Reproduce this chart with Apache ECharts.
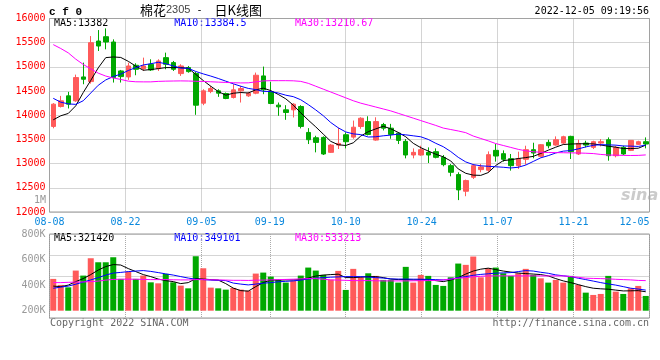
<!DOCTYPE html>
<html><head><meta charset="utf-8">
<script src="https://cdn.jsdelivr.net/npm/echarts@6/dist/echarts.min.js"></script>
<style>html,body{margin:0;padding:0;background:#fff}#c{width:660px;height:360px}</style>
</head><body><div id="c"></div>
<script>
// ---- data ----
const dates = ['08-08','08-09','08-10','08-11','08-12','08-15','08-16','08-17','08-18','08-19',
 '08-22','08-23','08-24','08-25','08-26','08-29','08-30','08-31','09-01','09-02',
 '09-05','09-06','09-07','09-08','09-09','09-13','09-14','09-15','09-16','09-19',
 '09-20','09-21','09-22','09-23','09-26','09-27','09-28','09-29','09-30','10-10',
 '10-11','10-12','10-13','10-14','10-17','10-18','10-19','10-20','10-21','10-24',
 '10-25','10-26','10-27','10-28','10-31','11-01','11-02','11-03','11-04','11-07',
 '11-08','11-09','11-10','11-11','11-14','11-15','11-16','11-17','11-18','11-21',
 '11-22','11-23','11-24','11-25','11-28','11-29','11-30','12-01','12-02','12-05'];
const dateLabels = ['08-08','08-22','09-05','09-19','10-10','10-24','11-07','11-21','12-05'];

const opens = [13769,14181,14401,14298,14792,14696,15534,15624,15514,14916,
 14792,15033,14964,15054,14964,15191,15088,14861,14985,14861,
 14250,14490,14504,14449,14367,14504,14401,14456,14813,14483,
 14209,14112,14112,14181,13645,13535,13542,13233,13384,13597,
 13548,13767,13869,13487,13808,13733,13630,13460,13178,13178,
 13233,13247,13130,12958,12773,12429,12718,12876,12862,13274,
 13206,13103,12958,13089,13288,13151,13439,13384,13425,13563,
 13199,13425,13336,13425,13494,13164,13336,13274,13398,13453];
const closes = [14229,14298,14229,14779,14744,15500,15431,15514,14779,14799,
 15019,14950,15019,14937,15122,15054,14950,15019,14902,14208,
 14504,14552,14456,14346,14525,14552,14456,14827,14525,14243,
 14174,14057,14229,13769,13494,13439,13199,13384,13418,13453,
 13753,13938,13603,13869,13733,13603,13480,13178,13233,13288,
 13178,13130,12979,12821,12457,12649,12958,12931,13185,13157,
 13089,12958,13103,13288,13219,13391,13370,13494,13556,13247,
 13418,13384,13453,13453,13164,13336,13199,13480,13453,13405];
const lows = [13730,14160,14140,14277,14641,14655,15328,15363,14676,14676,
 14731,14827,14916,14916,14916,14950,14916,14813,14880,14009,
 14208,14456,14380,14332,14346,14263,14380,14435,14435,14229,
 13989,13906,13954,13728,13405,13233,13178,13220,13302,13315,
 13514,13720,13583,13473,13686,13514,13405,13109,13109,13164,
 13013,13109,12944,12738,12246,12326,12683,12821,12821,13041,
 13041,12855,12890,12979,13110,13130,13315,13370,13405,13096,
 13178,13336,13302,13357,13061,13130,13178,13260,13384,13315];
const highs = [14250,14400,14483,14840,15088,15637,15761,15795,15569,14937,
 15088,15074,15191,15157,15157,15294,15122,15054,15019,14896,
 14538,14607,14538,14470,14641,14607,14483,14882,15006,14689,
 14263,14208,14250,14208,13734,13576,13563,13405,13741,13645,
 13890,13958,13979,13958,13842,13822,13651,13508,13315,13370,
 13336,13315,13178,12993,12821,12670,12993,12993,13253,13405,
 13274,13199,13247,13370,13432,13405,13494,13563,13576,13576,
 13494,13473,13473,13508,13542,13370,13370,13480,13473,13542];

const ma5 = [13906,13989,14037,14195,14470,14720,14980,15191,15205,15195,
 15115,15015,14930,14945,14964,14985,14985,14985,14972,14845,
 14718,14600,14490,14415,14455,14470,14460,14525,14560,14510,
 14430,14340,14210,14050,13900,13760,13610,13460,13390,13375,
 13430,13570,13660,13718,13772,13720,13645,13555,13420,13330,
 13260,13195,13140,13055,12890,12800,12762,12757,12815,12962,
 13062,13080,13105,13125,13150,13210,13278,13340,13395,13405,
 13410,13412,13408,13385,13360,13340,13312,13312,13318,13382];
const ma10 = [14350,14270,14235,14225,14300,14460,14620,14730,14800,14850,
 14925,14985,15040,15065,15095,15065,15020,14975,14970,14905,
 14855,14810,14760,14705,14650,14600,14555,14530,14495,14490,
 14460,14415,14385,14320,14220,14110,13990,13850,13740,13655,
 13615,13600,13550,13555,13575,13590,13610,13595,13575,13555,
 13500,13420,13350,13250,13130,13035,12980,12955,12945,12935,
 12925,12910,12925,12970,13045,13120,13165,13220,13258,13270,
 13305,13345,13378,13392,13388,13382,13365,13362,13355,13384];
const ma30 = [15460,15380,15290,15160,15050,14960,14870,14810,14770,14740,
 14705,14692,14690,14690,14700,14705,14708,14710,14708,14702,
 14698,14692,14685,14678,14672,14668,14670,14690,14710,14715,
 14715,14715,14712,14700,14660,14600,14540,14480,14420,14360,
 14300,14250,14210,14170,14130,14090,14040,13990,13940,13890,
 13840,13790,13735,13705,13675,13640,13570,13520,13470,13415,
 13375,13335,13295,13265,13245,13235,13230,13228,13225,13222,
 13220,13215,13208,13190,13178,13175,13170,13168,13170,13180];

// volume, in thousands of lots
const vols = [539,437,396,680,595,889,821,821,906,539,
 663,539,595,481,464,624,481,425,379,923,
 719,391,379,357,386,357,340,629,646,578,
 527,476,510,595,731,680,607,527,675,352,
 709,566,634,590,522,522,476,743,476,607,
 590,437,420,566,799,777,918,566,719,731,
 634,590,634,709,607,549,476,522,476,590,
 437,306,267,284,590,323,284,379,420,250];
const volMa5 = [417,408,434,493,544,612,689,748,782,774,
 714,663,612,578,536,510,493,459,476,544,
 536,527,519,459,383,340,332,408,476,519,
 519,522,522,527,553,587,604,612,619,561,
 561,568,578,578,561,536,527,527,522,522,
 522,510,493,519,561,621,672,704,721,697,
 672,655,638,629,621,612,590,544,505,476,
 442,408,381,371,364,349,335,337,340,321];
const volMa10 = [381,400,417,449,485,522,561,604,638,649,
 663,672,680,666,646,624,604,578,553,534,
 527,519,515,510,468,451,437,451,466,476,
 490,498,505,519,536,551,561,568,573,578,
 578,578,570,561,553,539,536,536,534,534,
 530,527,522,536,561,578,600,615,626,636,
 641,646,663,680,672,651,634,607,592,578,
 551,527,502,476,454,434,408,381,366,349];
const volMa30 = [476,476,481,485,488,493,502,519,530,534,
 534,534,530,527,527,527,524,522,522,527,
 527,524,522,519,515,515,513,517,519,522,
 527,530,534,539,544,544,534,522,519,515,
 510,510,510,507,505,505,505,505,507,510,
 510,513,522,536,551,561,575,583,590,590,
 590,590,590,590,590,590,590,590,590,578,
 566,551,547,544,539,532,527,522,513,510];

const priceMin = 12000, priceMax = 16000, priceStep = 500;
const volLabelMin = 200, volLabelMax = 800, volLabelStep = 200;
const volAxisMax = 1300;

const priceHeader = ['MA5:13382','MA10:13384.5','MA30:13210.67'];
const volHeader = ['MA5:321420','MA10:349101','MA30:533213'];

// ---- chart ----
const RED = '#ff5a5a', GREEN = '#00a800';
const MONO = '"DejaVu Sans Mono", monospace';
const GRIDLINE = {color:'#aaaaaa', type:[1,1], width:1};
const isLabel = (i, v) => dateLabels.indexOf(v) >= 0;
const L = 49.5, W = 600;

const chart = echarts.init(document.getElementById('c'), null, {renderer:'canvas'});
const monoText = (text, x, y, fill, align) => ({type:'text', x:x, y:y, silent:true,
  style:{text:text, font:'10px ' + MONO, fill:fill, align:align||'left', textAlign:align||'left', verticalAlign:'middle', textVerticalAlign:'middle'}});

chart.setOption({
  animation:false,
  backgroundColor:'#fff',
  grid:[
    {left:L, top:18.5, width:W, height:193.5, show:true, borderColor:'#999', borderWidth:1, outerBoundsMode:'none'},
    {left:L, top:234, width:W, height:84, show:true, borderColor:'#999', borderWidth:1, outerBoundsMode:'none'},
    {left:L, top:234, width:W, height:76.7, show:false, outerBoundsMode:'none'}
  ],
  xAxis:[
    {gridIndex:0, type:'category', data:dates, boundaryGap:true, position:'bottom', show:false},
    {gridIndex:0, type:'category', data:dates, boundaryGap:false, position:'bottom',
     axisLine:{show:false}, axisTick:{show:false},
     axisLabel:{interval:isLabel, color:'#0a88dd', fontFamily:MONO, fontSize:10, margin:5, alignMaxLabel:'right'},
     splitLine:{show:true, interval:isLabel, lineStyle:GRIDLINE}},
    {gridIndex:1, type:'category', data:dates, boundaryGap:false, position:'bottom',
     axisLine:{show:false}, axisTick:{show:false}, axisLabel:{show:false},
     splitLine:{show:true, interval:isLabel, lineStyle:GRIDLINE}},
    {gridIndex:2, type:'category', data:dates, boundaryGap:true, position:'bottom', show:false}
  ],
  yAxis:[
    {gridIndex:0, type:'value', min:priceMin, max:priceMax, interval:priceStep, position:'left',
     axisLine:{show:false}, axisTick:{show:false},
     axisLabel:{color:'#ff0000', fontFamily:MONO, fontSize:10, margin:4, formatter:v => String(v)},
     splitLine:{show:true, lineStyle:GRIDLINE}},
    {gridIndex:1, type:'value', min:0, max:4, interval:1, position:'left',
     axisLine:{show:false}, axisTick:{show:false}, axisLabel:{show:false},
     splitLine:{show:true, lineStyle:GRIDLINE}},
    {gridIndex:2, type:'value', min:0, max:volAxisMax, position:'left', show:false, splitLine:{show:false}},
    {gridIndex:2, type:'value', min:volLabelMin, max:volLabelMax, interval:volLabelStep, position:'left',
     axisLine:{show:false}, axisTick:{show:false}, splitLine:{show:false},
     axisLabel:{color:'#999', fontFamily:MONO, fontSize:10, margin:4, formatter:v => v + 'K'}}
  ],
  series:[
    {type:'candlestick', xAxisIndex:0, yAxisIndex:0, barWidth:5,
     data:dates.map((d,i) => [opens[i], closes[i], lows[i], highs[i]]),
     itemStyle:{color:RED, color0:GREEN, borderColor:RED, borderColor0:GREEN, borderWidth:1}},
    {type:'line', xAxisIndex:0, yAxisIndex:0, data:ma5, showSymbol:false, lineStyle:{color:'#000', width:1}},
    {type:'line', xAxisIndex:0, yAxisIndex:0, data:ma10, showSymbol:false, lineStyle:{color:'#0000ff', width:1}},
    {type:'line', xAxisIndex:0, yAxisIndex:0, data:ma30, showSymbol:false, lineStyle:{color:'#ff00ff', width:1}},
    {type:'bar', xAxisIndex:3, yAxisIndex:2, barWidth:6,
     data:vols.map((v,i) => ({value:v, itemStyle:{color: closes[i] > opens[i] ? RED : GREEN}}))},
    {type:'line', xAxisIndex:3, yAxisIndex:2, data:volMa5, showSymbol:false, lineStyle:{color:'#000', width:1}},
    {type:'line', xAxisIndex:3, yAxisIndex:2, data:volMa10, showSymbol:false, lineStyle:{color:'#0000ff', width:1}},
    {type:'line', xAxisIndex:3, yAxisIndex:2, data:volMa30, showSymbol:false, lineStyle:{color:'#ff00ff', width:1}}
  ],
  graphic:[
    {type:'text', x:49, y:12, silent:true, style:{text:'c f 0', font:'bold 11px "Liberation Mono", monospace', fill:'#000', verticalAlign:'middle', textVerticalAlign:'middle'}},
    {type:'text', x:140, y:10, silent:true, style:{
      text:'{a|棉花}{b|2305}{c| -  }{a|日K线图}', verticalAlign:'middle', textVerticalAlign:'middle',
      rich:{a:{font:'13px "Noto Sans CJK SC"', fill:'#000'}, b:{font:'11px "Liberation Sans"', fill:'#444'}, c:{font:'10px ' + MONO, fill:'#000'}}}},
    monoText('2022-12-05 09:19:56', 649, 11.5, '#000', 'right'),
    monoText(priceHeader[0], 54, 23.7, '#000'),
    monoText(priceHeader[1], 174.3, 23.7, '#0000ff'),
    monoText(priceHeader[2], 295, 23.7, '#ff00ff'),
    monoText(volHeader[0], 54, 238.5, '#000'),
    monoText(volHeader[1], 174.3, 238.5, '#0000ff'),
    monoText(volHeader[2], 295, 238.5, '#ff00ff'),
    monoText('1M', 46, 200.5, '#999', 'right'),
    monoText('Copyright 2022 SINA.COM', 50, 323.5, '#666'),
    monoText('http://finance.sina.com.cn', 649, 323.5, '#666', 'right'),
    {type:'text', x:621, y:196, silent:true, style:{text:'sina', font:'italic bold 16px "DejaVu Sans"', fill:'rgba(160,160,160,0.55)', verticalAlign:'middle', textVerticalAlign:'middle'}}
  ]
});
</script></body></html>
